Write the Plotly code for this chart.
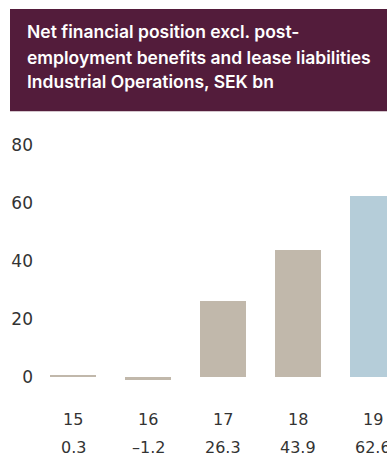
import plotly.graph_objects as go

# Net financial position, Industrial Operations (SEK bn)
years = ["15", "16", "17", "18", "19"]
values = [0.3, -1.2, 26.3, 43.9, 62.6]
value_labels = ["0.3", "\u20131.2", "26.3", "43.9", "62.6"]
bar_colors = ["#c1b8ab", "#c1b8ab", "#c1b8ab", "#c1b8ab", "#b5cdd9"]
title_lines = [
    "Net financial position excl. post-",
    "employment benefits and lease liabilities",
    "Industrial Operations, SEK bn",
]
y_ticks = [0, 20, 40, 60, 80]

W, H = 387, 457
# plot area in pixels
PL, PR, PT, PB = 40, 387, 130.5, 391.5


def px_x(x):
    return (x - PL) / (PR - PL)


def px_y(y):
    return (PB - y) / (PB - PT)


xpos = list(range(len(years)))

fig = go.Figure()
fig.add_trace(go.Bar(
    x=xpos, y=values, marker=dict(color=bar_colors, line=dict(width=0)),
    width=0.613, hoverinfo="skip", showlegend=False,
))

font_family = "DejaVu Sans"
text_color = "#333333"

annotations = []
# year labels and value labels under each bar
for i, (yr, lab) in enumerate(zip(years, value_labels)):
    annotations.append(dict(x=i, xref="x", y=px_y(420.5), yref="paper", text=yr,
                            showarrow=False, xanchor="center", yanchor="middle",
                            font=dict(family=font_family, size=16, color=text_color)))
    annotations.append(dict(x=i, xref="x", y=px_y(448), yref="paper", text=lab,
                            showarrow=False, xanchor="center", yanchor="middle",
                            font=dict(family=font_family, size=16, color=text_color)))

# heading lines inside the coloured banner
for line, yc in zip(title_lines, [31, 57, 81]):
    annotations.append(dict(x=px_x(25), xref="paper", y=px_y(yc), yref="paper",
                            text=line, showarrow=False, xanchor="left", yanchor="middle",
                            font=dict(family="Inter", size=17.5, color="white", weight=600)))

fig.update_layout(
    width=W, height=H,
    margin=dict(l=PL, r=W - PR, t=PT, b=H - PB, pad=0),
    paper_bgcolor="white", plot_bgcolor="white",
    xaxis=dict(range=[(PL - 73) / 75, (PR - 73) / 75], showticklabels=False,
               showgrid=False, zeroline=False, showline=False, fixedrange=True),
    yaxis=dict(range=[-5, 85], tickvals=y_ticks, showgrid=False, zeroline=False,
               showline=False, ticks="", ticklabelstandoff=6,
               tickfont=dict(family=font_family, size=17, color=text_color)),
    shapes=[dict(type="rect", xref="paper", yref="paper",
                 x0=px_x(10), x1=px_x(390), y0=px_y(110.7), y1=px_y(8),
                 fillcolor="#531c3b", line=dict(width=0), layer="below")],
    annotations=annotations,
    bargap=0,
)

fig.write_html("out.html")
